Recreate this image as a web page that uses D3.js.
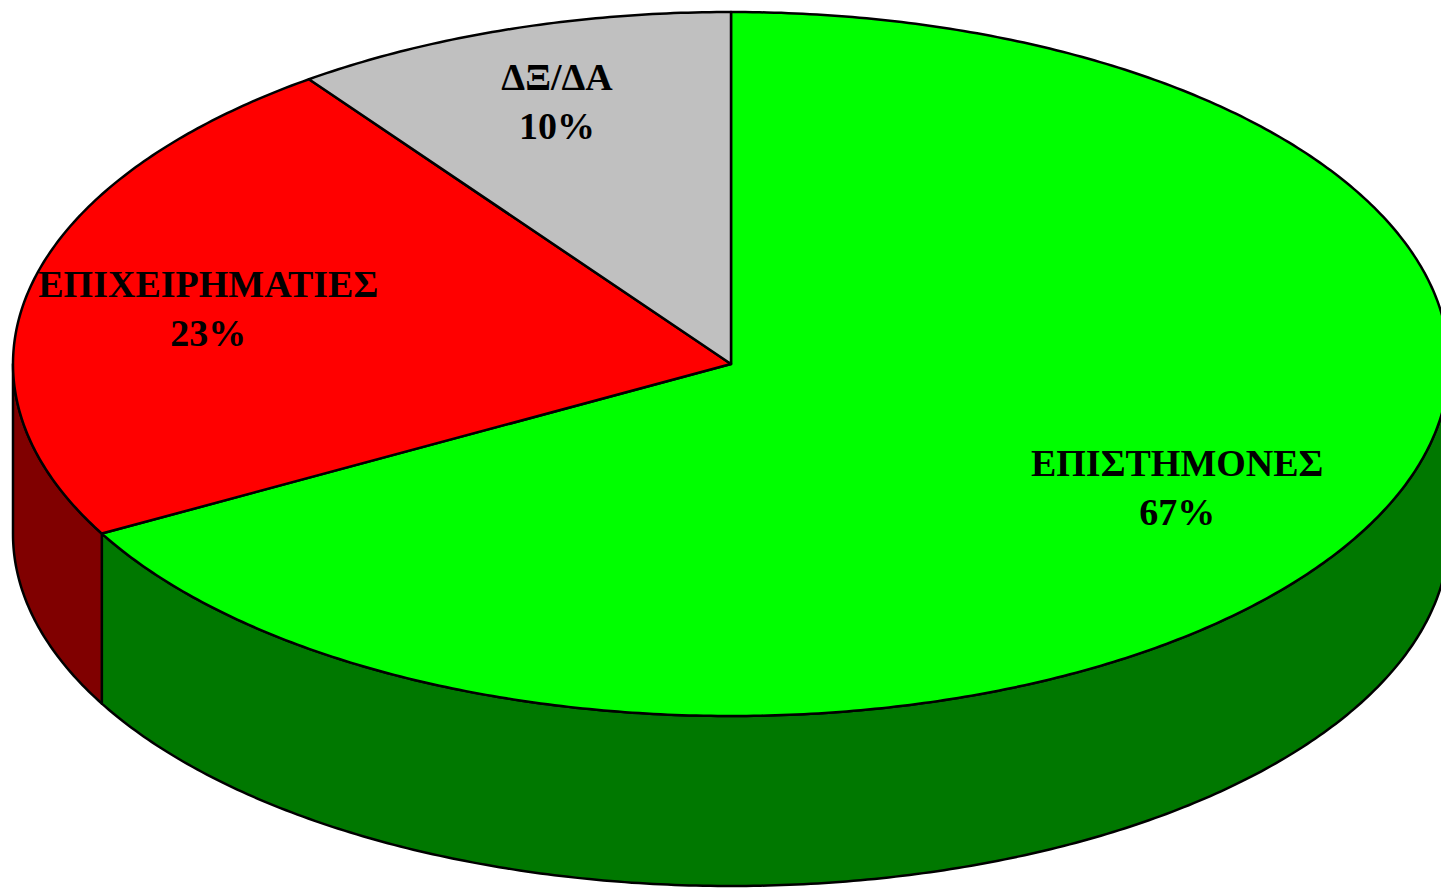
<!DOCTYPE html>
<meta charset="utf-8">
<html>
<head>
<style>
  body { margin: 0; background: #fff; }
  svg text { font-family: "Liberation Serif", "Times New Roman", serif; font-weight: bold; }
</style>
<script src="https://d3js.org/d3.v7.min.js"></script>
</head>
<body>
<div id="pie_viz"></div>
<script>
// data
var categories = ["ΕΠΙΣΤΗΜΟΝΕΣ", "ΕΠΙΧΕΙΡΗΜΑΤΙΕΣ", "ΔΞ/ΔΑ"];
var values = [67, 23, 10];
var pctLabels = ["67%", "23%", "10%"];
var topColors = ["#00ff00", "#ff0000", "#c0c0c0"];
var sideColors = ["#007800", "#800000", "#606060"];

// dims
var width = 1441, height = 889;
var cx = 731, cy = 364, rx = 718, ry = 352, depth = 170;

var svg = d3.select("#pie_viz")
  .append("svg")
    .attr("width", width)
    .attr("height", height);

var pie = d3.pie().sort(null).value(function(d) { return d; });
var arcs = pie(values);

// angle measured clockwise from 12 o'clock
function px(a, k) { return cx + Math.sin(a) * rx * (k == null ? 1 : k); }
function py(a, k) { return cy - Math.cos(a) * ry * (k == null ? 1 : k); }

var line = d3.line();

function arcPoints(a0, a1, dy) {
  var n = Math.max(2, Math.ceil(Math.abs(a1 - a0) / 0.01));
  var pts = [];
  for (var i = 0; i <= n; i++) {
    var a = a0 + (a1 - a0) * i / n;
    pts.push([px(a), py(a) + dy]);
  }
  return pts;
}

// side walls (only front half visible)
var lo = Math.PI / 2, hi = 3 * Math.PI / 2;
arcs.forEach(function(d, i) {
  var a0 = Math.max(d.startAngle, lo), a1 = Math.min(d.endAngle, hi);
  if (a1 <= a0) return;
  var pts = arcPoints(a0, a1, 0).concat(arcPoints(a1, a0, depth));
  svg.append("path")
    .attr("d", line(pts) + "Z")
    .attr("fill", sideColors[i])
    .attr("stroke", "#000")
    .attr("stroke-width", 2.5)
    .attr("stroke-linejoin", "round");
});

// top faces
arcs.forEach(function(d, i) {
  var pts = [[cx, cy]].concat(arcPoints(d.startAngle, d.endAngle, 0));
  svg.append("path")
    .attr("d", line(pts) + "Z")
    .attr("fill", topColors[i])
    .attr("stroke", "#000")
    .attr("stroke-width", 2.5)
    .attr("stroke-linejoin", "round");
});

// labels (placed along each slice's mid angle)
var labelKx = [0.722, 0.746, 0.784];
var labelKy = [0.759, 0.56, 0.747];
arcs.forEach(function(d, i) {
  var mid = (d.startAngle + d.endAngle) / 2;
  var x = px(mid, labelKx[i]), y = py(mid, labelKy[i]);
  var t = svg.append("text")
    .attr("text-anchor", "middle")
    .attr("font-size", "38px")
    .attr("fill", "#000");
  t.append("tspan").attr("x", x).attr("y", y - 24).text(categories[i]);
  t.append("tspan").attr("x", x).attr("y", y + 25).text(pctLabels[i]);
});
</script>
</body>
</html>
